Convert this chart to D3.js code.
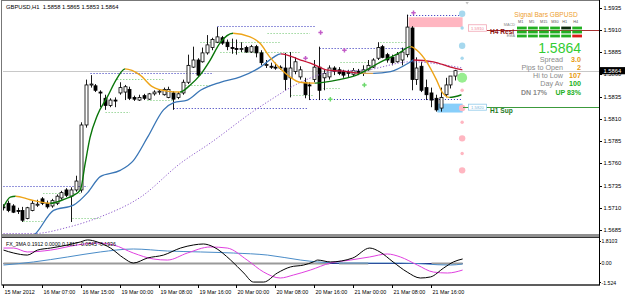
<!DOCTYPE html>
<html>
<head>
<meta charset="utf-8">
<script src="https://cdn.jsdelivr.net/npm/d3@7"></script>
<style>
body { margin: 0; background: #fff; }
svg { display: block; font-family: "Liberation Sans", Arial, sans-serif; }
</style>
</head>
<body>
<svg id="chart" width="625" height="297"></svg>
<script>
// ---- data ----
const titleText = "GBPUSD,H1  1.5858 1.5865 1.5853 1.5864";
const timeLabels = ["15 Mar 2012","16 Mar 07:00","16 Mar 15:00","19 Mar 00:00","19 Mar 08:00","19 Mar 16:00",
                    "20 Mar 00:00","20 Mar 08:00","20 Mar 16:00","21 Mar 00:00","21 Mar 08:00","21 Mar 16:00"];
const timeLabelBars = [0, 8, 16, 24, 32, 40, 48, 56, 64, 72, 80, 88];
const priceTicks = [1.5935, 1.5910, 1.5885, 1.5860, 1.5835, 1.5810, 1.5785, 1.5760, 1.5735, 1.5710, 1.5685];

const opens = [1.5711,1.5715,1.5712,1.5707,1.5707,1.5698,1.5707,1.5713,1.5720,1.5715,
1.5712,1.5715,1.5721,1.5730,1.5723,1.5730,1.5730,1.5803,1.5848,1.5847,
1.5840,1.5833,1.5825,1.5831,1.5839,1.5840,1.5843,1.5834,1.5831,1.5836,
1.5832,1.5838,1.5840,1.5837,1.5834,1.5839,1.5834,1.5839,1.5851,1.5868,
1.5876,1.5874,1.5884,1.5890,1.5896,1.5901,1.5896,1.5890,1.5889,1.5888,
1.5890,1.5885,1.5891,1.5884,1.5870,1.5869,1.5868,1.5868,1.5867,1.5856,
1.5863,1.5857,1.5851,1.5848,1.5854,1.5868,1.5856,1.5857,1.5867,1.5865,
1.5863,1.5861,1.5860,1.5863,1.5861,1.5865,1.5868,1.5878,1.5891,1.5882,
1.5879,1.5874,1.5876,1.5882,1.5912,1.5854,1.5869,1.5845,1.5839,1.5833,
1.5822,1.5837,1.5848,1.5858];
const highs = [1.5714,1.5718,1.5714,1.5710,1.5711,1.5711,1.5718,1.5719,1.5722,1.5718,
1.5720,1.5725,1.5729,1.5732,1.5733,1.5746,1.5806,1.5854,1.5859,1.5849,
1.5842,1.5837,1.5833,1.5834,1.5851,1.5848,1.5846,1.5836,1.5837,1.5838,
1.5839,1.5842,1.5843,1.5845,1.5846,1.5841,1.5840,1.5854,1.5882,1.5891,
1.5878,1.5890,1.5904,1.5901,1.5913,1.5903,1.5899,1.5900,1.5899,1.5896,
1.5892,1.5893,1.5893,1.5887,1.5876,1.5873,1.5873,1.5870,1.5884,1.5885,
1.5879,1.5869,1.5856,1.5851,1.5876,1.5891,1.5865,1.5870,1.5869,1.5868,
1.5865,1.5865,1.5867,1.5866,1.5870,1.5876,1.5878,1.5896,1.5893,1.5884,
1.5882,1.5885,1.5890,1.5927,1.5914,1.5879,1.5874,1.5854,1.5845,1.5837,
1.5845,1.5856,1.5858,1.5865];
const lows = [1.5707,1.5705,1.5704,1.5703,1.5694,1.5697,1.5706,1.5711,1.5713,1.5709,
1.5710,1.5713,1.5719,1.5722,1.5694,1.5728,1.5727,1.5800,1.5845,1.5840,
1.5823,1.5820,1.5823,1.5823,1.5837,1.5831,1.5831,1.5830,1.5830,1.5831,
1.5831,1.5836,1.5837,1.5836,1.5833,1.5820,1.5832,1.5837,1.5849,1.5867,
1.5857,1.5873,1.5882,1.5887,1.5895,1.5893,1.5887,1.5883,1.5882,1.5885,
1.5884,1.5884,1.5879,1.5870,1.5867,1.5866,1.5865,1.5865,1.5842,1.5834,
1.5860,1.5854,1.5833,1.5831,1.5851,1.5831,1.5842,1.5854,1.5859,1.5859,
1.5856,1.5857,1.5858,1.5859,1.5858,1.5864,1.5867,1.5876,1.5878,1.5873,
1.5870,1.5873,1.5870,1.5879,1.5842,1.5848,1.5840,1.5831,1.5823,1.5818,
1.5818,1.5834,1.5844,1.5853];
const closes = [1.5710,1.5707,1.5705,1.5706,1.5696,1.5710,1.5715,1.5714,1.5715,1.5711,
1.5718,1.5723,1.5727,1.5724,1.5730,1.5740,1.5803,1.5848,1.5849,1.5842,
1.5839,1.5825,1.5831,1.5830,1.5845,1.5846,1.5833,1.5832,1.5834,1.5833,
1.5838,1.5840,1.5841,1.5843,1.5843,1.5832,1.5838,1.5851,1.5870,1.5876,
1.5859,1.5884,1.5893,1.5899,1.5902,1.5895,1.5891,1.5889,1.5888,1.5889,
1.5885,1.5891,1.5884,1.5873,1.5871,1.5868,1.5867,1.5867,1.5854,1.5867,
1.5874,1.5865,1.5837,1.5847,1.5868,1.5842,1.5861,1.5867,1.5863,1.5861,
1.5859,1.5862,1.5864,1.5862,1.5865,1.5870,1.5876,1.5890,1.5879,1.5876,
1.5873,1.5882,1.5885,1.5913,1.5854,1.5867,1.5842,1.5837,1.5831,1.5820,
1.5834,1.5848,1.5858,1.5864];

// fast MA (green up / orange down)
const fastBars = [0,1.4,2.5,5.5,9.6,12.7,14.4,15.8,16.8,17.8,19.3,21.3,23.4,25,28.1,30.6,33.6,36.3,38.4,40.4,
  42.5,44.5,47.2,50.7,52.7,54.8,56.8,58.9,60.9,64,69.1,72.6,77.3,81.4,83.7,85,87,89,90.3,91.7,94.2];
const fastVals = [1.5711,1.5722,1.5723,1.5719,1.5715,1.5720,1.5724,1.5730,1.5760,1.5789,1.5814,1.5834,1.5856,1.5866,1.5859,
  1.5846,1.5841,1.5840,1.5848,1.5859,1.5876,1.5895,1.5906,1.5902,1.5895,1.5879,1.5867,1.5857,1.5851,1.5850,
  1.5854,1.5859,1.5873,1.5884,1.5891,1.5887,1.5874,1.5854,1.5839,1.5834,1.5837];
// slow MA (blue up / crimson down)
const slowBars = [5.5,6.2,10.3,14.4,17.3,19.9,24,26.7,29.6,32.9,35,37.8,40.5,44.6,48.7,52.8,55.5,57,61.1,64.2,
  66.3,70.7,73.4,76,79.6,83.7,84.3,88.4,91.9,94.4];
const slowVals = [1.5677,1.5679,1.5707,1.5713,1.5727,1.5745,1.5752,1.5763,1.5789,1.5820,1.5828,1.5831,1.5842,1.5851,1.5857,
  1.5868,1.5879,1.5883,1.5876,1.5870,1.5865,1.5863,1.5861,1.5861,1.5863,1.5874,1.5876,1.5874,1.5868,1.5865];
// long MA, dotted
const longBars = [0,6.2,13.2,20,28.2,36.4,42.6,51.8,54.3,61.1,67.8,74.8,83.7,94.4];
const longVals = [1.5681,1.5681,1.5688,1.5700,1.5722,1.5760,1.5783,1.5820,1.5829,1.5851,1.5863,1.5865,1.5874,1.5867];

// dotted horizontal levels
const blueStart = [0, 17.9, 35, 44, 63, 65, 83];
const blueEnd = [17.3, 43.2, 62.5, 64, 94.4, 83.7, 94.4];
const bluePrice = [1.5735, 1.5861, 1.5822, 1.5914, 1.5832, 1.5890, 1.5927];
const greenStart = [4.1, 8.2, 14.2, 21, 23.4, 29.6, 37.4, 40.5, 44.6, 54.3, 59, 65.8, 69.3, 77.5];
const greenEnd = [8.2, 15.8, 19.9, 26, 32.9, 35, 42.6, 57, 61, 63, 63.7, 69.3, 75.5, 83.7];
const greenPrice = [1.5695, 1.5727, 1.5699, 1.5818, 1.5855, 1.5831, 1.5848, 1.5896, 1.5885, 1.5906, 1.5837, 1.5845, 1.5874, 1.5896];

// small arrow marks
const violetBars = [62.1, 65.2, 70.1, 84.3];
const violetPrices = [1.5878, 1.5907, 1.5887, 1.5929];
const greenMarkBars = [67.2, 74.2];
const greenMarkPrices = [1.5832, 1.5848];

// zones and levels
const resiZone = [83.3, 94.4, 1.5913, 1.5924];
const supZone = [89.2, 94.4, 1.5817, 1.5827];
const resiPrice = 1.5910, supPrice = 1.5823;
const resiLabel = "H4 Resi", supLabel = "H1 Sup";

// level dots column
const dotBar = 94.3;
const dotPrices = [1.5928,1.5912,1.5892,1.5878,1.5856,1.5842,1.5822,1.5806,1.5788,1.5771,1.5752];
const dotGroups = ["above","above","above","above","now","below","below","below","below","below","below"];
const dotStrength = [2,1,2,1,3,1,2,1,2,1,2];

// signal bars panel
const panelTitle = "Signal Bars GBPUSD";
const tfLabels = ["M1","M5","M15","M30","H1","H4"];
const rowLabels = ["MACD","STR","EMA"];
const macdSig = [1,1,1,1,0,1];
const strSig = [1,1,1,1,1,1];
const emaSig = [1,1,1,1,1,-1];
const bidText = "1.5864";
const infoLabels = ["Spread","Pips to Open","Hi to Low","Day Av"];
const infoValues = ["3.0","2","107","100"];
const infoTones = ["warn","warn","warn","good"];
const dnText = "DN 17%", upText = "UP 83%";

// FX_3MA sub window
const indTitle = "FX_3MA 0.1912 0.0000 0.1817 -0.0845 -0.1936";
const indTicks = [1.8103, 0, -1.524];
const indTickLabels = ["1.8103", "0.00", "-1.524"];
const blackBars = [0,2.1,4.9,7,9.7,13.2,15.8,17.3,19.3,22,24.7,26.7,29.6,32.9,36.4,39.1,41.1,43.2,46.7,49.4,51.4,53.5,
  56.3,59,61.7,63.7,64.6,67.2,71.8,75.3,77.4,80.1,83,85.7,87.8,90.5,92.5,94.4];
const blackVals = [0.99,0.77,0.62,0.99,1.14,1.37,1.59,1.74,1.59,1.14,0.40,0.03,0.40,0.62,1.14,1.37,1.44,1.22,0.25,-0.71,-1.38,-1.38,
  -0.71,-0.26,-0.12,0.11,0.25,0.11,0.40,1.14,0.85,0.11,-0.64,-1.08,-1.00,-0.34,0.11,0.33];
const magBars = [0,2.1,4.9,9.7,15.2,19.3,22.6,26.7,30.8,33.7,37.8,42.5,46,50.1,53.5,56.9,59.6,63.1,67.2,71.3,75.3,78.9,
  81.6,85.1,88.4,91.3,94.4];
const magVals = [1.14,1.14,0.85,0.99,1.37,1.51,1.37,0.77,0.33,0.25,0.77,1.22,1.14,0.25,-0.64,-1.08,-0.86,-0.49,0.03,0.25,0.48,0.70,
  0.48,-0.12,-0.64,-0.71,-0.49];
const sbBars = [0,6.2,13.2,19.9,26.7,33.7,40.5,47.3,54.3,61.1,64.6,69.9,81.6,91.9,94.4];
const sbVals = [-0.12,0.11,0.48,0.85,1.07,0.92,0.85,0.77,0.62,0.25,0.11,0.03,0.03,-0.12,-0.04];
const zeroGrayStart = [0, 69, 88];
const zeroGrayEnd = [67, 75, 94.4];

// ---- scales ----
const svg = d3.select("#chart");
const x = d3.scaleLinear().domain([0, 88]).range([3.5, 431.5]);
const y = d3.scaleLinear().domain([1.5685, 1.5935]).range([230, 7.5]);
const yi = d3.scaleLinear().domain([-1.524, 1.8103]).range([284, 239]);
const fontSmall = 5.8;

const defs = svg.append("defs");
defs.append("clipPath").attr("id", "mainClip").append("rect")
  .attr("x", 3).attr("y", 2).attr("width", 596).attr("height", 232);
defs.append("clipPath").attr("id", "indClip").append("rect")
  .attr("x", 3).attr("y", 238).attr("width", 596).attr("height", 46);

// frame
svg.append("rect").attr("x", 1.5).attr("y", 0.5).attr("width", 598).attr("height", 284.5)
  .attr("fill", "none").attr("stroke", "#777");
svg.append("rect").attr("x", 2).attr("y", 234).attr("width", 597).attr("height", 3.5).attr("fill", "#909090");
svg.append("line").attr("x1", 2).attr("x2", 599).attr("y1", 237.5).attr("y2", 237.5).attr("stroke", "#333");
svg.append("line").attr("x1", 599.5).attr("x2", 599.5).attr("y1", 0).attr("y2", 285).attr("stroke", "#000");
svg.append("line").attr("x1", 2).attr("x2", 600).attr("y1", 285).attr("y2", 285).attr("stroke", "#000");

const main = svg.append("g").attr("clip-path", "url(#mainClip)");

// bid line
main.append("line").attr("x1", 3).attr("x2", 599)
  .attr("y1", Math.round(y(closes[closes.length - 1])) + 0.5).attr("y2", Math.round(y(closes[closes.length - 1])) + 0.5)
  .attr("stroke", "#c8c8c8");

// zones
main.append("rect").attr("x", x(resiZone[0])).attr("width", x(resiZone[1]) - x(resiZone[0]))
  .attr("y", y(resiZone[3])).attr("height", y(resiZone[2]) - y(resiZone[3])).attr("fill", "#ffb6c1");
main.append("rect").attr("x", x(supZone[0])).attr("width", x(supZone[1]) - x(supZone[0]))
  .attr("y", y(supZone[3])).attr("height", y(supZone[2]) - y(supZone[3])).attr("fill", "#87cefa");

// dotted levels
const blueLevels = bluePrice.map((p, k) => ({a: blueStart[k], b: blueEnd[k], p}));
const greenLevels = greenPrice.map((p, k) => ({a: greenStart[k], b: greenEnd[k], p}));
main.selectAll(".lvlBlue").data(blueLevels).join("line").attr("class", "lvlBlue")
  .attr("x1", d => x(d.a)).attr("x2", d => x(d.b))
  .attr("y1", d => Math.round(y(d.p)) + 0.5).attr("y2", d => Math.round(y(d.p)) + 0.5)
  .attr("stroke", "#2a2ab8").attr("stroke-dasharray", "1,2");
main.selectAll(".lvlGreen").data(greenLevels).join("line").attr("class", "lvlGreen")
  .attr("x1", d => x(d.a)).attr("x2", d => x(d.b))
  .attr("y1", d => Math.round(y(d.p)) + 0.5).attr("y2", d => Math.round(y(d.p)) + 0.5)
  .attr("stroke", "#6cc46c").attr("stroke-dasharray", "1,2");

// candles
const candles = opens.map((o, i) => ({i, o, h: highs[i], l: lows[i], c: closes[i]}));
const cx = i => Math.floor(x(i)) + 0.5;
main.selectAll(".wick").data(candles).join("line").attr("class", "wick")
  .attr("x1", d => cx(d.i)).attr("x2", d => cx(d.i))
  .attr("y1", d => y(d.h)).attr("y2", d => y(d.l))
  .attr("stroke", "#000").attr("stroke-width", 0.9);
main.selectAll(".body").data(candles.filter(d => d.o !== d.c)).join("rect").attr("class", "body")
  .attr("x", d => cx(d.i) - 1.5).attr("width", 3)
  .attr("y", d => y(Math.max(d.o, d.c))).attr("height", d => Math.max(1, y(Math.min(d.o, d.c)) - y(Math.max(d.o, d.c))))
  .attr("fill", d => d.c > d.o ? "#fff" : "#000").attr("stroke", "#000").attr("stroke-width", 0.8);
main.selectAll(".doji").data(candles.filter(d => d.o === d.c)).join("line").attr("class", "doji")
  .attr("x1", d => cx(d.i) - 2).attr("x2", d => cx(d.i) + 2)
  .attr("y1", d => y(d.c)).attr("y2", d => y(d.c)).attr("stroke", "#000");

// colored moving averages: whole smooth path drawn once per colour run, clipped to the run's x-range
let clipId = 0;
function drawColoredLine(parent, bars, vals, colorOf, width) {
  const pts = bars.map((b, k) => [b, vals[k]]);
  const path = d3.line().x(d => x(d[0])).y(d => y(d[1])).curve(d3.curveMonotoneX)(pts);
  const runs = [];
  let cur = null;
  for (let k = 0; k < pts.length - 1; k++) {
    const col = colorOf(vals[k + 1] - vals[k]);
    if (!cur || cur.color !== col) {
      cur = {color: col, a: bars[k], b: bars[k + 1]};
      runs.push(cur);
    }
    cur.b = bars[k + 1];
  }
  runs.forEach(r => {
    const id = "run" + (clipId++);
    defs.append("clipPath").attr("id", id).append("rect")
      .attr("x", x(r.a)).attr("width", x(r.b) - x(r.a)).attr("y", 0).attr("height", 240);
    parent.append("path").attr("d", path).attr("fill", "none")
      .attr("stroke", r.color).attr("stroke-width", width).attr("clip-path", `url(#${id})`);
  });
}

main.append("path")
  .attr("d", d3.line().x(d => x(d[0])).y(d => y(d[1])).curve(d3.curveMonotoneX)(longBars.map((b, k) => [b, longVals[k]])))
  .attr("fill", "none").attr("stroke", "#8e5ccc").attr("stroke-width", 1).attr("stroke-dasharray", "1.2,1.8");
drawColoredLine(main, slowBars, slowVals, dv => dv > 0 ? "#3a76b6" : (dv < 0 ? "#c41434" : "#d8a050"), 1.3);
drawColoredLine(main, fastBars, fastVals, dv => dv >= 0 ? "#0a760a" : "#eea418", 1.4);

// marks
main.selectAll(".vmark").data(violetBars.map((b, k) => [b, violetPrices[k]])).join("path").attr("class", "vmark")
  .attr("transform", d => `translate(${x(d[0])},${y(d[1])})`)
  .attr("d", d3.symbol().type(d3.symbolCross).size(11)).attr("fill", "#c25cc8");
main.selectAll(".gmark").data(greenMarkBars.map((b, k) => [b, greenMarkPrices[k]])).join("path").attr("class", "gmark")
  .attr("transform", d => `translate(${x(d[0])},${y(d[1])})`)
  .attr("d", d3.symbol().type(d3.symbolCross).size(11)).attr("fill", "#6cd86c");

// level dots column
const dotColor = {above: "#a6d8ee", now: "#98ee90", below: "#ffb6c1"};
const dotRadius = {1: 1.7, 2: 3.2, 3: 5};
main.selectAll(".ldot").data(dotPrices.map((p, k) => ({p, g: dotGroups[k], s: dotStrength[k]}))).join("circle")
  .attr("class", "ldot").attr("cx", x(dotBar)).attr("cy", d => y(d.p))
  .attr("r", d => dotRadius[d.s]).attr("fill", d => dotColor[d.g]);
main.append("path").attr("d", `M${x(dotBar) + 3},1.5 L${x(dotBar) + 7},1.5 L${x(dotBar) + 5},4.5 Z`).attr("fill", "#c0c0c0");

// resistance / support lines with labels
main.append("line").attr("x1", 487).attr("x2", 599).attr("y1", Math.round(y(resiPrice)) + 0.5).attr("y2", Math.round(y(resiPrice)) + 0.5)
  .attr("stroke", "#a83232");
main.append("line").attr("x1", 463).attr("x2", 599).attr("y1", Math.round(y(supPrice)) + 0.5).attr("y2", Math.round(y(supPrice)) + 0.5)
  .attr("stroke", "#3c9a3c");
main.append("rect").attr("x", 468.5).attr("y", y(resiPrice) - 5).attr("width", 18).attr("height", 6.5)
  .attr("fill", "#fff").attr("stroke", "#f2a6b4").attr("stroke-width", 0.8);
main.append("text").attr("x", 477.5).attr("y", y(resiPrice) - 0.2).attr("text-anchor", "middle")
  .attr("font-size", 4.2).attr("fill", "#f08898").text(resiPrice.toFixed(4));
main.append("rect").attr("x", 468.5).attr("y", y(supPrice) - 3).attr("width", 18).attr("height", 6)
  .attr("fill", "#fff").attr("stroke", "#8cc8e8").attr("stroke-width", 0.8);
main.append("text").attr("x", 477.5).attr("y", y(supPrice) + 1.6).attr("text-anchor", "middle")
  .attr("font-size", 4.2).attr("fill", "#7ab8dc").text("1.5820");
main.append("text").attr("x", 490).attr("y", y(resiPrice) + 4).attr("font-size", 6.6).attr("font-weight", "bold")
  .attr("fill", "#8b1010").text(resiLabel);
main.append("text").attr("x", 490).attr("y", y(supPrice) + 5.5).attr("font-size", 6.6).attr("font-weight", "bold")
  .attr("fill", "#1f7a1f").text(supLabel);

// signal bars panel
const panel = svg.append("g");
panel.append("text").attr("x", 546).attr("y", 16.5).attr("text-anchor", "middle")
  .attr("font-size", 6.6).attr("fill", "#eea030").text(panelTitle);
const colX = d3.scaleBand().domain(tfLabels).range([517, 582]).paddingInner(0.12);
panel.selectAll(".tf").data(tfLabels).join("text").attr("class", "tf")
  .attr("x", d => colX(d) + 1).attr("y", 23.2).attr("font-size", 3.8).attr("fill", "#555").text(d => d);
const rowY = d3.scaleBand().domain(rowLabels).range([26.6, 37.4]).paddingInner(0.3);
const sigRows = [macdSig, strSig, emaSig];
const sigCells = [];
sigRows.forEach((row, r) => row.forEach((v, c) => sigCells.push({r: rowLabels[r], c: tfLabels[c], v})));
panel.selectAll(".sig").data(sigCells).join("rect").attr("class", "sig")
  .attr("x", d => colX(d.c)).attr("width", colX.bandwidth())
  .attr("y", d => rowY(d.r)).attr("height", rowY.bandwidth())
  .attr("fill", d => d.v > 0 ? "#22b022" : (d.v < 0 ? "#dd1a1a" : "#0c2a0c"));
panel.selectAll(".rl").data([rowLabels[0], rowLabels[2]]).join("text").attr("class", "rl")
  .attr("x", 515).attr("y", (d, k) => k === 0 ? 26.4 : rowY(d) + 2.6).attr("text-anchor", "end")
  .attr("font-size", 3.8).attr("fill", "#888").text(d => d);
panel.append("text").attr("x", 581).attr("y", 52.6).attr("text-anchor", "end")
  .attr("font-size", 14).attr("fill", "#33cc33").text(bidText);
const toneColor = {warn: "#e69a10", good: "#22b022"};
const infoY = d3.scalePoint().domain(infoLabels).range([62.3, 86.3]);
panel.selectAll(".il").data(infoLabels).join("text").attr("class", "il")
  .attr("x", 563).attr("y", d => infoY(d)).attr("text-anchor", "end")
  .attr("font-size", 7.2).attr("fill", "#8a8a8a").text(d => d);
panel.selectAll(".iv").data(infoValues.map((v, k) => ({v, t: infoTones[k], l: infoLabels[k]}))).join("text").attr("class", "iv")
  .attr("x", 581).attr("y", d => infoY(d.l)).attr("text-anchor", "end").attr("font-weight", "bold")
  .attr("font-size", 7.2).attr("fill", d => toneColor[d.t]).text(d => d.v);
panel.append("text").attr("x", 521).attr("y", 94.8).attr("font-size", 7).attr("font-weight", "bold")
  .attr("fill", "#8a8a8a").text(dnText);
panel.append("text").attr("x", 581).attr("y", 94.8).attr("text-anchor", "end").attr("font-size", 7).attr("font-weight", "bold")
  .attr("fill", "#22b022").text(upText);

// title
svg.append("text").attr("x", 6).attr("y", 9).attr("font-size", fontSmall).attr("fill", "#000")
  .attr("xml:space", "preserve").text(titleText);

// price axis (the bid tag sits over its neighbour, as in the terminal)
svg.selectAll(".ptick").data(priceTicks).join("line").attr("class", "ptick")
  .attr("x1", 599).attr("x2", 602).attr("y1", d => Math.round(y(d)) + 0.5).attr("y2", d => Math.round(y(d)) + 0.5)
  .attr("stroke", "#000");
svg.selectAll(".plab").data(priceTicks).join("text").attr("class", "plab")
  .attr("x", 603.5).attr("y", d => y(d) + 2).attr("font-size", fontSmall).attr("fill", "#000")
  .text(d => d.toFixed(4));
const bidY = y(closes[closes.length - 1]);
svg.append("rect").attr("x", 600).attr("y", bidY - 3.6).attr("width", 25).attr("height", 7.2).attr("fill", "#000");
svg.append("text").attr("x", 603.5).attr("y", bidY + 2).attr("font-size", fontSmall).attr("fill", "#fff").text(bidText);

// FX_3MA window
const ind = svg.append("g").attr("clip-path", "url(#indClip)");
const zeroY = Math.round(yi(0)) + 0.5;
ind.append("line").attr("x1", x(0)).attr("x2", x(94.4)).attr("y1", zeroY).attr("y2", zeroY).attr("stroke", "#101070");
ind.selectAll(".zg").data(zeroGrayStart.map((a, k) => [a, zeroGrayEnd[k]])).join("line").attr("class", "zg")
  .attr("x1", d => x(d[0])).attr("x2", d => x(d[1])).attr("y1", zeroY).attr("y2", zeroY)
  .attr("stroke", "#9a9a9a").attr("stroke-width", 2);
const indLine = d3.line().x(d => x(d[0])).y(d => yi(d[1])).curve(d3.curveMonotoneX);
[[sbBars, sbVals, "#4a8cc8"], [magBars, magVals, "#e040e0"], [blackBars, blackVals, "#000"]].forEach(s => {
  ind.append("path").attr("d", indLine(s[0].map((b, k) => [b, s[1][k]])))
    .attr("fill", "none").attr("stroke", s[2]).attr("stroke-width", 1);
});
svg.append("text").attr("x", 6).attr("y", 246).attr("font-size", 5.2).attr("fill", "#000").text(indTitle);
svg.selectAll(".itick").data(indTicks).join("text").attr("class", "itick")
  .attr("x", 601.5).attr("y", (d, k) => k === 0 ? 243 : (k === 2 ? 284.5 : yi(d) + 2))
  .attr("font-size", 5.2).attr("fill", "#000").text((d, k) => indTickLabels[k]);
svg.selectAll(".itk").data(indTicks).join("line").attr("class", "itk")
  .attr("x1", 599).attr("x2", 601).attr("y1", (d, k) => k === 0 ? 241.5 : (k === 2 ? 282.5 : zeroY))
  .attr("y2", (d, k) => k === 0 ? 241.5 : (k === 2 ? 282.5 : zeroY)).attr("stroke", "#000");

// time axis
svg.selectAll(".ttick").data(timeLabelBars).join("line").attr("class", "ttick")
  .attr("x1", d => cx(d)).attr("x2", d => cx(d)).attr("y1", 285).attr("y2", 288).attr("stroke", "#000");
svg.selectAll(".tlab").data(timeLabels).join("text").attr("class", "tlab")
  .attr("x", (d, k) => cx(timeLabelBars[k]) + 1).attr("y", 293.5)
  .attr("font-size", 5.4).attr("fill", "#000").text(d => d);
</script>
</body>
</html>
